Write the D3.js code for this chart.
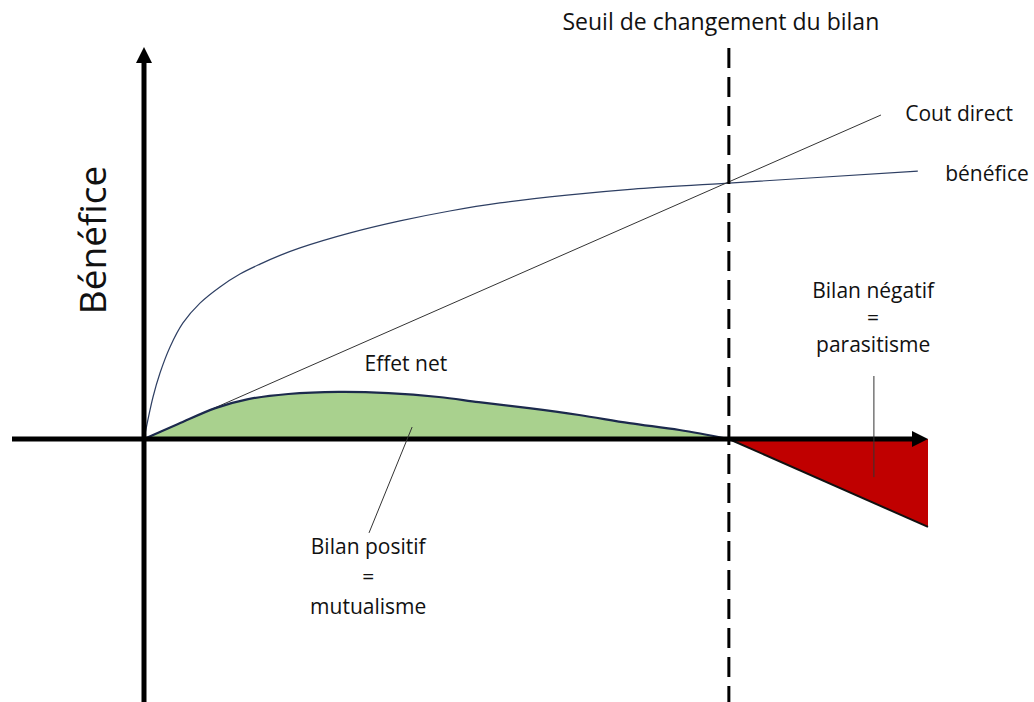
<!DOCTYPE html>
<html>
<head>
<meta charset="utf-8">
<script src="https://cdn.jsdelivr.net/npm/d3@7"></script>
<style>
  body { margin: 0; background: #fff; }
  text { font-family: "Open Sans", sans-serif; fill: #111; }
</style>
</head>
<body>
<div class="container"></div>
<script>
const benefice = [[0, 0], [1.15, 14], [2.04, 22], [3.32, 30.7], [4.97, 38.7], [7.14, 45.3], [9.69, 50.7],
  [12.24, 55], [14.8, 58.3], [17.35, 61.2], [19.9, 63.7], [26.3, 68.7], [32.65, 72.7], [39, 76],
  [45.4, 78.7], [53.95, 81.3], [62.4, 83.3], [74.6, 85.3], [98.7, 89.3]];
const coutDirect = [[0, 0], [94, 108]];
const effetNet = [[0, 0], [4.35, 5], [9.1, 10.3], [13.3, 13.3], [18.4, 15], [24.8, 15.7], [31.2, 15.3],
  [37.6, 14], [42.7, 12.3], [49.1, 10.3], [55.5, 8], [61.9, 5.3], [68.3, 3], [74.6, 0]];
const effetNegatif = [[74.6, 0], [100, 0], [100, -29.3]];
const seuil = 74.6;

// textes
const titre = "Seuil de changement du bilan";
const labelY = "Bénéfice";
const labelsCourbes = [
  { text: "Cout direct", x: 97.1, y: 106 },
  { text: "bénéfice", x: 102.2, y: 86 }
];
const blocPositif = ["Bilan positif", "=", "mutualisme"];
const blocNegatif = ["Bilan négatif", "=", "parasitisme"];

const width = 1034, height = 702;

const svg = d3.select(".container").append("svg")
  .attr("width", width)
  .attr("height", height);

const x = d3.scaleLinear().domain([0, 100]).range([144, 928]);
const y = d3.scaleLinear().domain([0, 100]).range([439, 139]);

const smooth = d3.curveCatmullRom.alpha(0.5);

const line = d3.line()
  .x(d => x(d[0]))
  .y(d => y(d[1]));

// zone verte (effet net positif)
svg.append("path")
  .datum(effetNet)
  .attr("d", d3.area().x(d => x(d[0])).y0(y(0)).y1(d => y(d[1])).curve(smooth))
  .attr("fill", "#a9d18e");

// zone rouge (effet net negatif)
svg.append("path")
  .datum(effetNegatif)
  .attr("d", line)
  .attr("fill", "#c00000");

svg.append("line")
  .attr("x1", x(effetNegatif[0][0])).attr("y1", y(effetNegatif[0][1]))
  .attr("x2", x(effetNegatif[2][0])).attr("y2", y(effetNegatif[2][1]))
  .attr("stroke", "#111")
  .attr("stroke-width", 2);

// benefice
svg.append("path")
  .datum(benefice)
  .attr("d", d3.line().x(d => x(d[0])).y(d => y(d[1])).curve(smooth))
  .attr("fill", "none")
  .attr("stroke", "#2e3f63")
  .attr("stroke-width", 1.2);

// cout direct
svg.append("path")
  .datum(coutDirect)
  .attr("d", line)
  .attr("fill", "none")
  .attr("stroke", "#333")
  .attr("stroke-width", 1);

// effet net
svg.append("path")
  .datum(effetNet)
  .attr("d", d3.line().x(d => x(d[0])).y(d => y(d[1])).curve(smooth))
  .attr("fill", "none")
  .attr("stroke", "#1c2a4d")
  .attr("stroke-width", 2.2);

// seuil (pointilles)
svg.append("line")
  .attr("x1", x(seuil)).attr("x2", x(seuil))
  .attr("y1", 48).attr("y2", height)
  .attr("stroke", "#000")
  .attr("stroke-width", 3)
  .attr("stroke-dasharray", "20,9");

// axes
svg.append("line")
  .attr("x1", 12).attr("x2", x(100) - 12)
  .attr("y1", y(0)).attr("y2", y(0))
  .attr("stroke", "#000").attr("stroke-width", 5);
svg.append("path")
  .attr("d", `M${x(100)},${y(0)} L${x(100) - 16},${y(0) - 8} L${x(100) - 16},${y(0) + 8} Z`)
  .attr("fill", "#000");

svg.append("line")
  .attr("x1", x(0)).attr("x2", x(0))
  .attr("y1", 60).attr("y2", height)
  .attr("stroke", "#000").attr("stroke-width", 5);
svg.append("path")
  .attr("d", `M${x(0)},47 L${x(0) - 8},63 L${x(0) + 8},63 Z`)
  .attr("fill", "#000");

// traits d'annotation
svg.append("line")
  .attr("x1", x(34.2)).attr("y1", y(4))
  .attr("x2", x(28.7)).attr("y2", y(-31.3))
  .attr("stroke", "#333").attr("stroke-width", 1);
svg.append("line")
  .attr("x1", x(93.1)).attr("y1", y(21))
  .attr("x2", x(93.1)).attr("y2", y(-12.7))
  .attr("stroke", "#333").attr("stroke-width", 1);

// textes
svg.append("text")
  .attr("x", x(seuil) - 8).attr("y", 30)
  .attr("text-anchor", "middle")
  .style("font-size", "23px")
  .text(titre);

svg.append("text")
  .attr("transform", `translate(106, 240) rotate(-90)`)
  .attr("text-anchor", "middle")
  .style("font-size", "37px")
  .text(labelY);

svg.selectAll(".lbl")
  .data(labelsCourbes)
  .join("text")
  .attr("class", "lbl")
  .attr("x", d => x(d.x))
  .attr("y", d => y(d.y))
  .style("font-size", "21px")
  .text(d => d.text);

svg.append("text")
  .attr("x", x(33.4)).attr("y", 371)
  .attr("text-anchor", "middle")
  .style("font-size", "21px")
  .text("Effet net");

svg.selectAll(".pos")
  .data(blocPositif)
  .join("text")
  .attr("class", "pos")
  .attr("x", x(28.6))
  .attr("y", (d, i) => 554 + i * 30)
  .attr("text-anchor", "middle")
  .style("font-size", "21px")
  .text(d => d);

svg.selectAll(".neg")
  .data(blocNegatif)
  .join("text")
  .attr("class", "neg")
  .attr("x", x(93))
  .attr("y", (d, i) => 298 + i * 27)
  .attr("text-anchor", "middle")
  .style("font-size", "21px")
  .text(d => d);
</script>
</body>
</html>
